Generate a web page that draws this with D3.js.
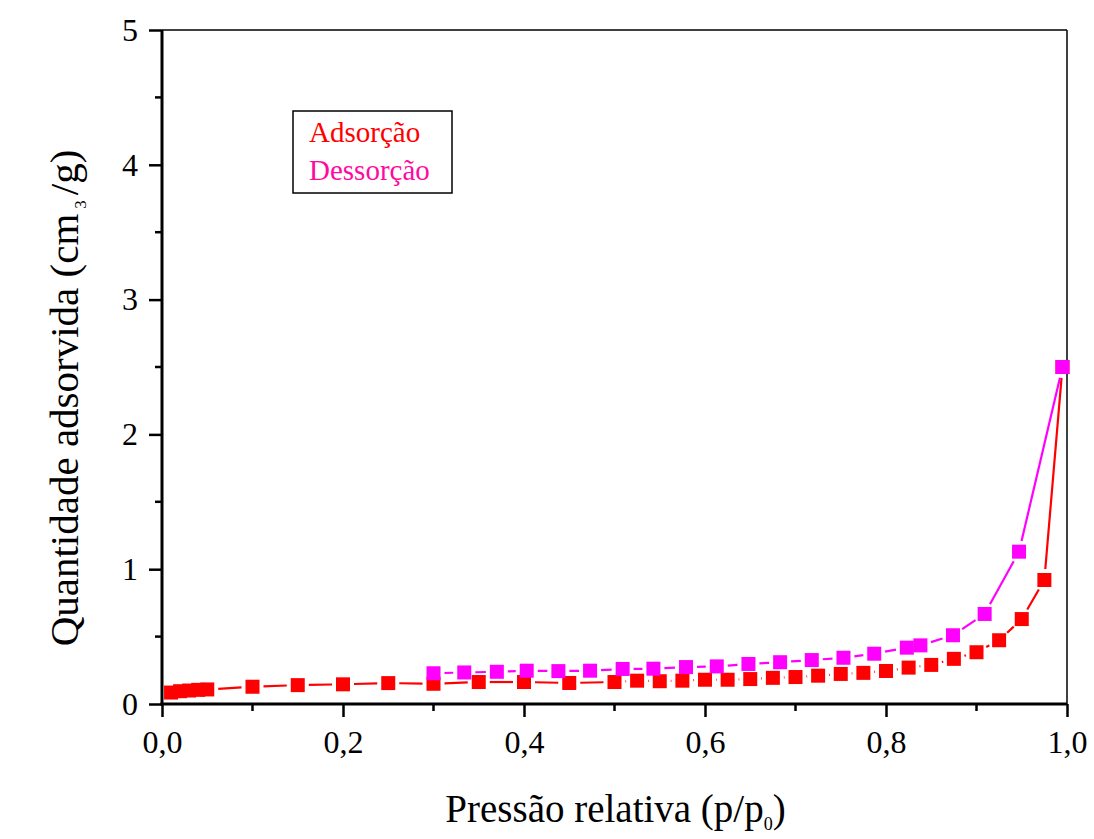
<!DOCTYPE html>
<html>
<head>
<meta charset="utf-8">
<script src="https://cdn.jsdelivr.net/npm/d3@7"></script>
<style>
  body { margin: 0; background: #fff; }
  text { font-family: "Liberation Serif", "Times New Roman", serif; }
</style>
</head>
<body>
<div class="chart"></div>
<script>
// adsorption branch (p/p0, cm3/g)
var adsX = [0.01, 0.02, 0.03, 0.04, 0.05, 0.10, 0.15, 0.20, 0.25, 0.30, 0.35, 0.40, 0.45,
            0.50, 0.525, 0.55, 0.575, 0.60, 0.625, 0.65, 0.675, 0.70, 0.725, 0.75, 0.775,
            0.80, 0.825, 0.85, 0.875, 0.90, 0.925, 0.95, 0.975, 0.995];
var adsY = [0.085, 0.095, 0.100, 0.105, 0.108, 0.128, 0.140, 0.146, 0.155, 0.150, 0.163, 0.163, 0.156,
            0.163, 0.173, 0.169, 0.173, 0.180, 0.180, 0.185, 0.194, 0.200, 0.210, 0.223, 0.231,
            0.245, 0.270, 0.290, 0.335, 0.384, 0.473, 0.630, 0.920, 2.50];
// desorption branch
var desX = [0.30, 0.334, 0.37, 0.403, 0.438, 0.473, 0.509, 0.543, 0.579, 0.613, 0.648, 0.683,
            0.718, 0.753, 0.787, 0.823, 0.838, 0.874, 0.909, 0.947, 0.995];
var desY = [0.228, 0.234, 0.239, 0.247, 0.244, 0.247, 0.260, 0.262, 0.274, 0.279, 0.297, 0.310,
            0.326, 0.343, 0.373, 0.418, 0.435, 0.510, 0.668, 1.13, 2.50];
var xTicks = [0, 0.2, 0.4, 0.6, 0.8, 1.0];
var yTicks = [0, 1, 2, 3, 4, 5];
var seriesNames = ["Adsorção", "Dessorção"];
var seriesColors = ["#ff0000", "#ff00ff"];

var margin = {top: 30, right: 27, bottom: 135, left: 162},
    width = 1094 - margin.left - margin.right,
    height = 839 - margin.top - margin.bottom;

var x = d3.scaleLinear().domain([0, 1]).range([0, width]);
var y = d3.scaleLinear().domain([0, 5]).range([height, 0]);

var svg = d3.select(".chart").append("svg")
    .attr("width", 1094).attr("height", 839)
    .append("g")
    .attr("transform", "translate(" + margin.left + "," + margin.top + ")");

// frame top / right
svg.append("line").attr("x1", 0).attr("x2", width).attr("y1", 0).attr("y2", 0)
    .attr("stroke", "#000").attr("stroke-width", 1.5);
svg.append("line").attr("x1", width).attr("x2", width).attr("y1", 0).attr("y2", height)
    .attr("stroke", "#000").attr("stroke-width", 1.5);

// minor ticks
svg.selectAll(".xminor").data(d3.range(0.1, 1, 0.2)).enter().append("line")
    .attr("x1", function(d) { return x(d); }).attr("x2", function(d) { return x(d); })
    .attr("y1", height).attr("y2", height + 7)
    .attr("stroke", "#000").attr("stroke-width", 2.5);
svg.selectAll(".yminor").data(d3.range(0.5, 5, 1)).enter().append("line")
    .attr("y1", function(d) { return y(d); }).attr("y2", function(d) { return y(d); })
    .attr("x1", 0).attr("x2", -7)
    .attr("stroke", "#000").attr("stroke-width", 2.5);

var xAxis = d3.axisBottom(x).tickValues(xTicks).tickSize(13).tickPadding(13)
    .tickFormat(function(d) { return d3.format(".1f")(d).replace(".", ","); });
var yAxis = d3.axisLeft(y).tickValues(yTicks).tickSize(13).tickPadding(11)
    .tickFormat(d3.format("d"));

var gx = svg.append("g").attr("transform", "translate(0," + height + ")").call(xAxis);
var gy = svg.append("g").call(yAxis);
[gx, gy].forEach(function(g) {
    g.select(".domain").attr("stroke-width", 3);
    g.selectAll(".tick line").attr("stroke-width", 2.5);
    g.selectAll("text").style("font-size", "32px").attr("fill", "#000")
        .style("font-family", "Liberation Serif");
});
gy.select(".domain").attr("d", "M0," + (height + 1.5) + "V0");
gx.select(".domain").attr("d", "M-1.5,0H" + width);

// lines with gaps around markers, the way the original draws them
var gap = 11;
function drawSeries(xs, ys, color) {
    var pts = xs.map(function(v, i) { return [x(v), y(ys[i])]; });
    var segs = [];
    for (var i = 1; i < pts.length; i++) {
        var dx = pts[i][0] - pts[i - 1][0], dy = pts[i][1] - pts[i - 1][1];
        var d = Math.sqrt(dx * dx + dy * dy);
        if (d <= 2 * gap + 0.5) continue;
        var ux = dx / d, uy = dy / d;
        segs.push([pts[i - 1][0] + ux * gap, pts[i - 1][1] + uy * gap,
                   pts[i][0] - ux * gap, pts[i][1] - uy * gap]);
    }
    svg.append("g").selectAll("line").data(segs).enter().append("line")
        .attr("x1", function(s) { return s[0]; }).attr("y1", function(s) { return s[1]; })
        .attr("x2", function(s) { return s[2]; }).attr("y2", function(s) { return s[3]; })
        .attr("stroke", color).attr("stroke-width", 2.2);
    svg.append("g").selectAll("rect").data(pts).enter().append("rect")
        .attr("x", function(p) { return p[0] - 7; }).attr("y", function(p) { return p[1] - 7; })
        .attr("width", 14).attr("height", 14)
        .attr("fill", color);
}
drawSeries(adsX, adsY, seriesColors[0]);
drawSeries(desX, desY, seriesColors[1]);

// legend
var lg = svg.append("g").attr("transform", "translate(131,81)");
lg.append("rect").attr("width", 159).attr("height", 82)
    .attr("fill", "#fff").attr("stroke", "#000").attr("stroke-width", 1.5);
lg.selectAll("text").data(seriesNames).enter().append("text")
    .attr("x", 16).attr("y", function(d, i) { return 31 + i * 38; })
    .style("font-size", "29px")
    .attr("fill", function(d, i) { return i === 0 ? "#ff0000" : "#ff0aa0"; })
    .text(function(d) { return d; });

// axis titles
var xt = svg.append("text").attr("x", width / 2 + 1).attr("y", height + 118)
    .attr("text-anchor", "middle").style("font-size", "39px");
xt.append("tspan").text("Pressão relativa (p/p");
xt.append("tspan").attr("dy", 8).style("font-size", "18px").text("0");
xt.append("tspan").attr("dy", -8).text(")");

var yt = svg.append("text").attr("transform", "translate(-84,368) rotate(-90)")
    .attr("text-anchor", "middle").style("font-size", "41px");
yt.append("tspan").text("Quantidade adsorvida (cm");
yt.append("tspan").attr("dy", 8).attr("dx", 5).style("font-size", "17px").text("3");
yt.append("tspan").attr("dy", -8).attr("dx", 5).text("/g)");
</script>
</body>
</html>
